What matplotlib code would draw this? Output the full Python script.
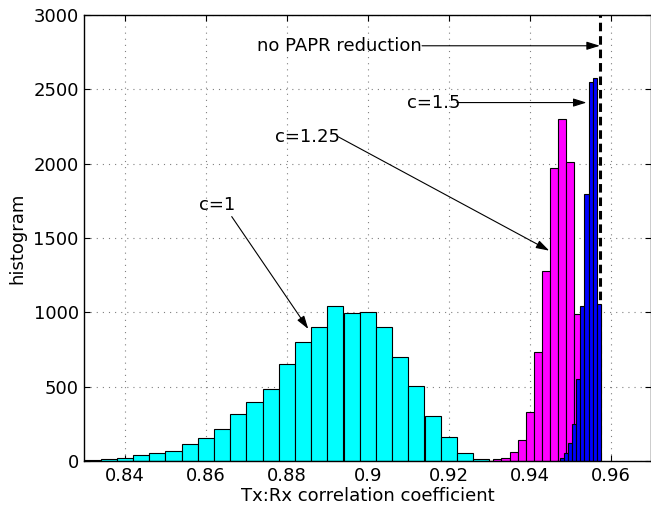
import numpy as np
import matplotlib
matplotlib.use("Agg")
import matplotlib.pyplot as plt

# ---- data ----
c1_start, c1_width = 0.830, 0.004
c1_counts = [9, 11, 18, 42, 52, 69, 112, 153, 217, 318, 395, 487, 651, 799,
             904, 1041, 994, 1005, 900, 702, 503, 305, 161, 52, 11, 2]

c125_start, c125_width = 0.929, 0.002
c125_counts = [3, 11, 18, 58, 140, 330, 730, 1280, 1969, 2303, 2010, 990]

c15_start, c15_width = 0.9465, 0.001
c15_counts = [3, 18, 56, 123, 249, 550, 1043, 1797, 2548, 2578, 1057]

no_papr_x = 0.9574

x_ticks = [0.84, 0.86, 0.88, 0.90, 0.92, 0.94, 0.96]
x_tick_labels = ["0.84", "0.86", "0.88", "0.9", "0.92", "0.94", "0.96"]
y_ticks = [0, 500, 1000, 1500, 2000, 2500, 3000]

labels = ["no PAPR reduction", "c=1.5", "c=1.25", "c=1"]
label_pos = [(0.8727, 2793), (0.9096, 2411), (0.8772, 2182), (0.8584, 1723)]
arrow_start = [(0.9134, 2793), (0.9220, 2411), (0.8924, 2185), (0.8664, 1644)]
arrow_end = [(0.9573, 2793), (0.9540, 2411), (0.9448, 1415), (0.8853, 888)]

FS = 13
plt.rcParams['font.family'] = ['DejaVu Sans']

fig = plt.figure(figsize=(6.51, 5.09), dpi=100)
W, H = 651, 509
ax = fig.add_axes([84.3 / W, 48 / H, (651.3 - 84.3) / W, 446 / H])

def lefts(start, width, counts):
    return start + width * np.arange(len(counts))

ax.plot([no_papr_x, no_papr_x], [0, 3000], color='black', lw=2.2,
        linestyle=(0, (2.8, 1.6)), zorder=1)

ax.bar(lefts(c1_start, c1_width, c1_counts), c1_counts, width=c1_width,
       align='edge', color='#00FFFF', edgecolor='black', linewidth=0.8, zorder=2)
ax.bar(lefts(c125_start, c125_width, c125_counts), c125_counts, width=c125_width,
       align='edge', color='#FF00FF', edgecolor='black', linewidth=0.8, zorder=3)
ax.bar(lefts(c15_start, c15_width, c15_counts), c15_counts, width=c15_width,
       align='edge', color='#0000FF', edgecolor='black', linewidth=0.8, zorder=4)

ax.set_xlim(0.83, 0.97)
ax.set_ylim(0, 3000)
ax.set_xticks(x_ticks)
ax.set_xticklabels(x_tick_labels)
ax.set_yticks(y_ticks)
ax.tick_params(direction='in', length=4, width=0.8, labelsize=FS,
               top=True, right=True, pad=4)
ax.grid(True, color='#808080', linestyle=(0, (1, 4.5)), linewidth=0.8)
ax.set_axisbelow(True)
for s in ax.spines.values():
    s.set_linewidth(1.0)
    s.set_zorder(6)

ax.set_xlabel("Tx:Rx correlation coefficient", fontsize=FS, labelpad=2)
ax.set_ylabel("histogram", fontsize=FS, labelpad=5)

for i, t in enumerate(labels):
    ax.text(label_pos[i][0], label_pos[i][1], t, fontsize=FS, ha='left',
            va='center', zorder=7)
    ax.annotate('', xy=arrow_end[i], xytext=arrow_start[i],
                arrowprops=dict(arrowstyle='-|>,head_length=0.8,head_width=0.25',
                                color='black', lw=0.8, shrinkA=0, shrinkB=0),
                zorder=7)

fig.savefig("out.png", dpi=100)
